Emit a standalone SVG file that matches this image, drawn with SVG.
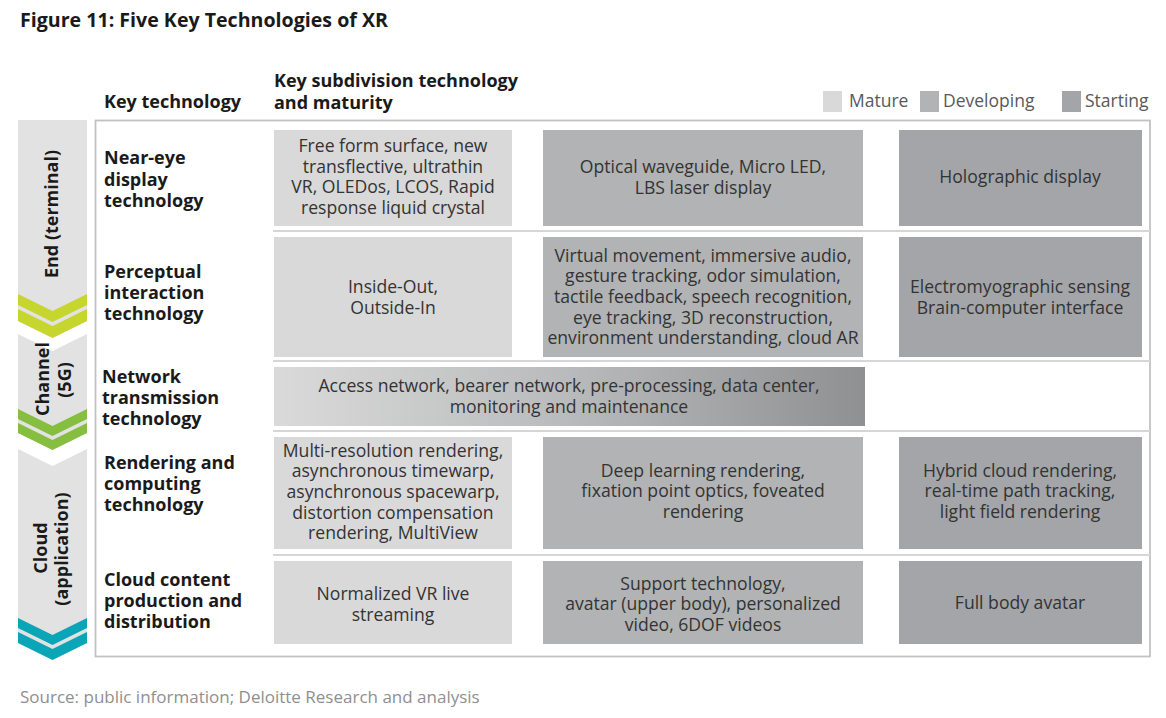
<svg xmlns="http://www.w3.org/2000/svg" width="1166" height="718" viewBox="0 0 1166 718">
<defs>
<linearGradient id="netgrad" x1="0" y1="0" x2="1" y2="0">
<stop offset="0" stop-color="#dadada"/>
<stop offset="0.5" stop-color="#b9babb"/>
<stop offset="1" stop-color="#8e9092"/>
</linearGradient>
<style>
.title{font-family:"Open Sans","Liberation Sans",sans-serif;font-weight:bold;font-size:19.6px;fill:#1a1a1a;}
.hdr{font-family:"Open Sans","Liberation Sans",sans-serif;font-weight:bold;font-size:18px;fill:#1a1a1a;}
.lab{font-family:"Open Sans","Liberation Sans",sans-serif;font-weight:bold;font-size:18px;fill:#1a1a1a;}
.side{font-family:"Open Sans","Liberation Sans",sans-serif;font-weight:bold;font-size:18px;fill:#1a1a1a;text-anchor:middle;}
.bx{font-family:"Open Sans","Liberation Sans",sans-serif;font-size:17.6px;fill:#333333;text-anchor:middle;}
.leg{font-family:"Open Sans","Liberation Sans",sans-serif;font-size:17.5px;fill:#58595b;}
.src{font-family:"Open Sans","Liberation Sans",sans-serif;font-size:17px;fill:#8f8f8f;}
.mat{fill:#d9d9d9;}
.dev{fill:#b1b3b4;}
.sta{fill:#a3a5a8;}
.seg{fill:#e2e2e2;}
.sep{stroke:#d6d6d6;stroke-width:2;fill:none;}
</style>
</defs>
<rect width="1166" height="718" fill="#ffffff"/>

<text class="title" x="20" y="27">Figure 11: Five Key Technologies of XR</text>

<g id="headers">
<text class="hdr" x="104" y="108">Key technology</text>
<text class="hdr" x="274" y="87">Key subdivision technology</text>
<text class="hdr" x="274" y="109">and maturity</text>
</g>

<g id="legend">
<rect class="mat" x="823" y="91" width="19" height="21"/>
<text class="leg" x="849" y="107">Mature</text>
<rect class="dev" x="920" y="91" width="19" height="21"/>
<text class="leg" x="943" y="107">Developing</text>
<rect class="sta" x="1062" y="91" width="19" height="21"/>
<text class="leg" x="1085" y="107">Starting</text>
</g>

<g id="seg-end">
<polygon class="seg" points="18,120 87,120 87,321 52.5,338 18,321"/>
<polygon fill="#c7d52f" points="18,294 52.5,311 87,294 87,305 52.5,322 18,305"/>
<polygon fill="#c7d52f" points="18,309 52.5,326 87,309 87,321 52.5,338 18,321"/>
<text class="side" transform="translate(58,214) rotate(-90)">End (terminal)</text>
</g>
<g id="seg-channel">
<polygon class="seg" points="18,334 52.5,351 87,334 87,433 52.5,450 18,433"/>
<polygon fill="#86be3f" points="18,409 52.5,426 87,409 87,419 52.5,436 18,419"/>
<polygon fill="#86be3f" points="18,423 52.5,440 87,423 87,433 52.5,450 18,433"/>
<text class="side" transform="translate(49,379) rotate(-90)">Channel</text>
<text class="side" transform="translate(71,380) rotate(-90)">(5G)</text>
</g>
<g id="seg-cloud">
<polygon class="seg" points="18,449 52.5,466 87,449 87,643 52.5,660 18,643"/>
<polygon fill="#0aa5b7" points="18,618 52.5,635 87,618 87,628 52.5,645 18,628"/>
<polygon fill="#0aa5b7" points="18,632 52.5,649 87,632 87,643 52.5,660 18,643"/>
<text class="side" transform="translate(47,548) rotate(-90)">Cloud</text>
<text class="side" transform="translate(68,549) rotate(-90)">(application)</text>
</g>

<g id="frame">
<rect x="95.5" y="120.5" width="1054.5" height="536" fill="none" stroke="#c2c2c2" stroke-width="1.8"/>
<line class="sep" x1="273" y1="231" x2="1150" y2="231"/>
<line class="sep" x1="273" y1="361" x2="1150" y2="361"/>
<line class="sep" x1="273" y1="431" x2="1150" y2="431"/>
<line class="sep" x1="273" y1="555" x2="1150" y2="555"/>
</g>

<g id="row1-label">
<text class="lab" x="104" y="164">Near-eye</text>
<text class="lab" x="104" y="185.5">display</text>
<text class="lab" x="104" y="207">technology</text>
</g>
<g id="row1-mature">
<rect class="mat" x="274" y="130" width="238" height="96"/>
<text class="bx" x="393" y="152">Free form surface, new</text>
<text class="bx" x="393" y="172.7">transflective, ultrathin</text>
<text class="bx" x="393" y="193.3">VR, OLEDos, LCOS, Rapid</text>
<text class="bx" x="393" y="213.5">response liquid crystal</text>
</g>
<g id="row1-developing">
<rect class="dev" x="543" y="130" width="320" height="96"/>
<text class="bx" x="703" y="173">Optical waveguide, Micro LED,</text>
<text class="bx" x="703" y="194">LBS laser display</text>
</g>
<g id="row1-starting">
<rect class="sta" x="899" y="130" width="243" height="96"/>
<text class="bx" x="1020" y="183">Holographic display</text>
</g>

<g id="row2-label">
<text class="lab" x="104" y="278">Perceptual</text>
<text class="lab" x="104" y="299">interaction</text>
<text class="lab" x="104" y="320">technology</text>
</g>
<g id="row2-mature">
<rect class="mat" x="274" y="237" width="238" height="120"/>
<text class="bx" x="393" y="292.5">Inside-Out,</text>
<text class="bx" x="393" y="313.5">Outside-In</text>
</g>
<g id="row2-developing">
<rect class="dev" x="543" y="237" width="320" height="120"/>
<text class="bx" x="703" y="261.5">Virtual movement, immersive audio,</text>
<text class="bx" x="703" y="282">gesture tracking, odor simulation,</text>
<text class="bx" x="703" y="302.8">tactile feedback, speech recognition,</text>
<text class="bx" x="703" y="323.5">eye tracking, 3D reconstruction,</text>
<text class="bx" x="703" y="344.3">environment understanding, cloud AR</text>
</g>
<g id="row2-starting">
<rect class="sta" x="899" y="237" width="243" height="120"/>
<text class="bx" x="1020" y="292.5">Electromyographic sensing</text>
<text class="bx" x="1020" y="313.5">Brain-computer interface</text>
</g>

<g id="row3-label">
<text class="lab" x="102" y="383">Network</text>
<text class="lab" x="102" y="404">transmission</text>
<text class="lab" x="102" y="425">technology</text>
</g>
<g id="row3-network">
<rect fill="url(#netgrad)" x="274" y="367" width="591" height="59"/>
<text class="bx" x="569" y="391.5">Access network, bearer network, pre-processing, data center,</text>
<text class="bx" x="569" y="412.5">monitoring and maintenance</text>
</g>

<g id="row4-label">
<text class="lab" x="104" y="469">Rendering and</text>
<text class="lab" x="104" y="490">computing</text>
<text class="lab" x="104" y="511">technology</text>
</g>
<g id="row4-mature">
<rect class="mat" x="274" y="437" width="238" height="112"/>
<text class="bx" x="393" y="456.5">Multi-resolution rendering,</text>
<text class="bx" x="393" y="477">asynchronous timewarp,</text>
<text class="bx" x="393" y="497.8">asynchronous spacewarp,</text>
<text class="bx" x="393" y="518.5">distortion compensation</text>
<text class="bx" x="393" y="539">rendering, MultiView</text>
</g>
<g id="row4-developing">
<rect class="dev" x="543" y="437" width="320" height="112"/>
<text class="bx" x="703" y="476.7">Deep learning rendering,</text>
<text class="bx" x="703" y="497.3">fixation point optics, foveated</text>
<text class="bx" x="703" y="518.3">rendering</text>
</g>
<g id="row4-starting">
<rect class="sta" x="899" y="437" width="243" height="112"/>
<text class="bx" x="1020" y="476.7">Hybrid cloud rendering,</text>
<text class="bx" x="1020" y="497.3">real-time path tracking,</text>
<text class="bx" x="1020" y="518.3">light field rendering</text>
</g>

<g id="row5-label">
<text class="lab" x="104" y="586">Cloud content</text>
<text class="lab" x="104" y="607">production and</text>
<text class="lab" x="104" y="628">distribution</text>
</g>
<g id="row5-mature">
<rect class="mat" x="274" y="561" width="238" height="83"/>
<text class="bx" x="393" y="600">Normalized VR live</text>
<text class="bx" x="393" y="620.7">streaming</text>
</g>
<g id="row5-developing">
<rect class="dev" x="543" y="561" width="320" height="83"/>
<text class="bx" x="703" y="589.5">Support technology,</text>
<text class="bx" x="703" y="610">avatar (upper body), personalized</text>
<text class="bx" x="703" y="630.5">video, 6DOF videos</text>
</g>
<g id="row5-starting">
<rect class="sta" x="899" y="561" width="243" height="83"/>
<text class="bx" x="1020" y="609.3">Full body avatar</text>
</g>

<text class="src" x="20" y="703">Source: public information; Deloitte Research and analysis</text>
</svg>
